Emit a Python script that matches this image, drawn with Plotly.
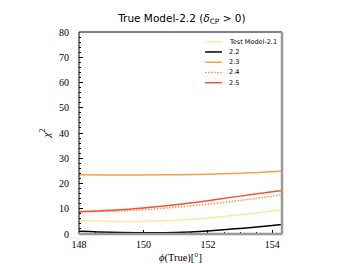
import plotly.graph_objects as go

phi = [148.0, 149.0, 150.0, 151.0, 152.0, 153.0, 154.0, 154.3]
m21 = [5.3, 5.0, 5.0, 5.4, 6.3, 7.6, 9.1, 9.6]
m22 = [1.1, 0.7, 0.5, 0.6, 1.2, 2.2, 3.4, 3.8]
m23 = [23.5, 23.4, 23.4, 23.5, 23.7, 24.1, 24.7, 25.0]
m24 = [8.8, 9.0, 9.6, 10.6, 11.8, 13.3, 15.0, 15.5]
m25 = [8.8, 9.4, 10.3, 11.6, 13.2, 15.0, 16.7, 17.2]

names = ["Test Model-2.1", "2.2", "2.3", "2.4", "2.5"]
series = [m21, m22, m23, m24, m25]
colors = ["#fde9a4", "#000000", "#f8a33e", "#f7905a", "#ee5536"]
dashes = ["solid", "solid", "solid", "1.5px,1.5px", "solid"]

fig = go.Figure()
for n, s, c, d in zip(names, series, colors, dashes):
    fig.add_trace(go.Scatter(x=phi, y=s, mode="lines", name=n, showlegend=False,
                             line=dict(color=c, width=1.5, dash=d, shape="spline")))

# hand-drawn compact legend (paper coordinates)
leg_y0, leg_dy = 0.952, 0.0508
for i, (n, c, d) in enumerate(zip(names, colors, dashes)):
    yy = leg_y0 - i * leg_dy
    fig.add_shape(type="line", xref="paper", yref="paper", x0=0.621, x1=0.704,
                  y0=yy, y1=yy, line=dict(color=c, width=1.5, dash=d))
    fig.add_annotation(xref="paper", yref="paper", x=0.729, y=yy, text=n,
                       showarrow=False, xanchor="left", yanchor="middle",
                       font=dict(family="DejaVu Sans", size=6.5, color="black"))

serif = "Liberation Serif"
fig.update_layout(
    width=352, height=264,
    margin=dict(l=71, r=78, t=24, b=38, autoexpand=False),
    paper_bgcolor="white", plot_bgcolor="white",
    title=dict(text="True Model-2.2 (<i>δ</i><sub>CP</sub> > 0)", x=0.494, xanchor="center",
               y=0.962, yanchor="middle",
               font=dict(family="DejaVu Sans", size=10.5, color="black")),
    showlegend=False,
    xaxis=dict(range=[148, 154.3], tickvals=[148, 150, 152, 154],
               ticks="inside", ticklen=4, tickcolor="black", ticklabelstandoff=3,
               minor=dict(dtick=0.5, ticks="inside", ticklen=2, tickcolor="black"),
               showgrid=False, zeroline=False, showline=False, automargin=False,
               tickfont=dict(family=serif, size=10, color="black"),
               title=dict(text="<i>ϕ</i>(True)[°]", standoff=4,
                          font=dict(family=serif, size=10.5, color="black"))),
    yaxis=dict(range=[0, 80], dtick=10,
               ticks="inside", ticklen=4, tickcolor="black", ticklabelstandoff=9,
               minor=dict(dtick=2, ticks="inside", ticklen=2, tickcolor="black"),
               showgrid=False, zeroline=False, showline=False, automargin=False,
               tickfont=dict(family=serif, size=10, color="black"),
               title=dict(text="<i>χ</i><sup>2</sup>", standoff=6,
                          font=dict(family=serif, size=11, color="black"))),
)
fig.add_shape(type="line", xref="paper", yref="paper", x0=0, x1=0, y0=0, y1=1,
              line=dict(color="black", width=1))
fig.add_shape(type="line", xref="paper", yref="paper", x0=0, x1=1, y0=1, y1=1,
              line=dict(color="black", width=1))
fig.add_shape(type="line", xref="paper", yref="paper", x0=1, x1=1, y0=0, y1=1,
              line=dict(color="#999999", width=2.5))
fig.add_shape(type="line", xref="paper", yref="paper", x0=0, x1=1, y0=0, y1=0,
              line=dict(color="#999999", width=2.5))
fig.write_html("out.html")
